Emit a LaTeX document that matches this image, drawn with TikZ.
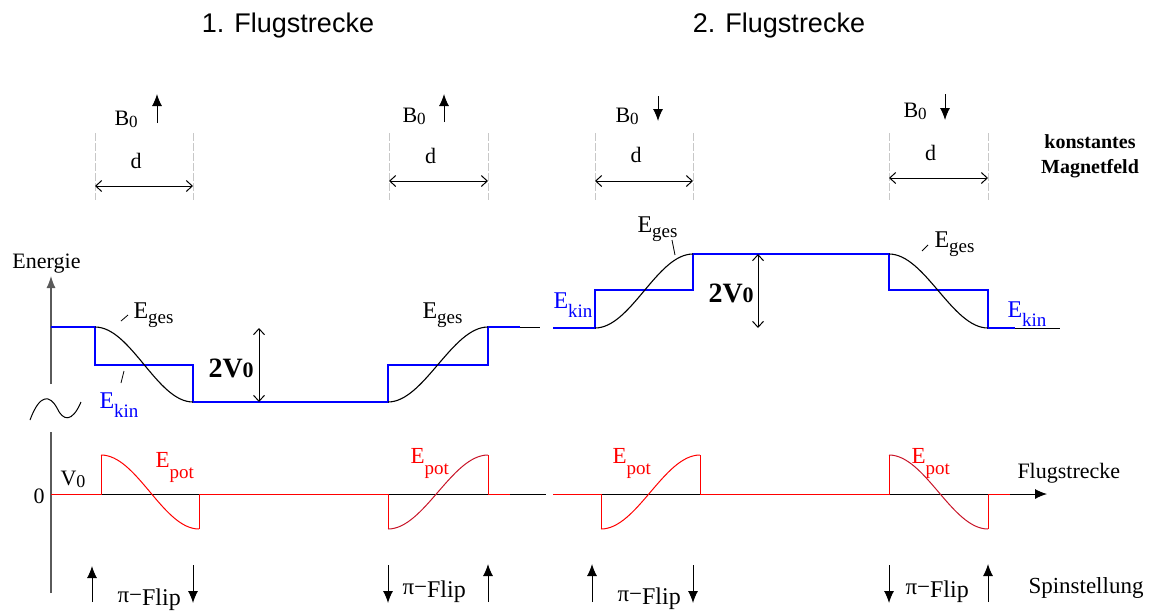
\documentclass[tikz,border=0pt]{standalone}
\usepackage{fontspec}
\setmainfont{Liberation Serif}
\newfontfamily\arialf{Liberation Sans}
\usetikzlibrary{arrows.meta}
\definecolor{eblue}{RGB}{0,0,255}
\definecolor{ered}{RGB}{255,0,0}
\definecolor{edred}{RGB}{200,20,40}
\definecolor{axgray}{RGB}{90,90,90}
\definecolor{dgray}{RGB}{200,200,200}
\newcommand\fs[1]{\fontsize{#1}{#1}\selectfont}
\newcommand\Esub[3]{\fs{#3}E\raisebox{-#2pt}{\fs{19}#1}}
\newcommand\Bnull{B\raisebox{-2pt}{\fs{17}0}}
\newcommand\piflip{\raisebox{3pt}{\fs{23}π−}\fs{24}Flip}
\begin{document}
\begin{tikzpicture}[x=1pt,y=-1pt,line width=1pt,
  txt/.style={inner sep=0pt,anchor=base west},
  spin/.style={line width=1pt,-{Latex[length=12pt,width=10pt]}},
  barb/.style={line width=1pt,{Straight Barb[length=6pt,width=11pt]}-{Straight Barb[length=6pt,width=11pt]}},
  guide/.style={dgray,line width=0.8pt,dash pattern=on 8pt off 2pt},
  bluel/.style={eblue,line width=1.3pt},
  curve/.style={black,line width=1.1pt}]
\useasboundingbox (0,0) rectangle (1151,614);
% titles
\node[inner sep=0pt,anchor=base,font=\arialf\fs{27}] (t1) at (288,32) {1. Flugstrecke};
\node[inner sep=0pt,anchor=base,font=\arialf\fs{27}] (t2) at (779,32) {2. Flugstrecke};
% magnetic field regions
\foreach \xa/\xb/\ya/\yd/\bx/\by/\nm in {95/193/186/168/114/125/a,389/488/181/163/402/122/b,595/693/181/162/615/122/c,889/988/178/160/903/117/d}{
  \coordinate (l\nm) at (\xa,133); \coordinate (r\nm) at (\xb,133);
  \coordinate (la\nm) at (\xa,200); \coordinate (ra\nm) at (\xb,200);
  \draw[guide] (l\nm) -- (la\nm);
  \draw[guide] (r\nm) -- (ra\nm);
  \coordinate (dl\nm) at (\xa,\ya); \coordinate (dr\nm) at (\xb,\ya);
  \draw[barb] (dl\nm) -- (dr\nm);
  \node[inner sep=0pt,anchor=base,font=\fs{22}] (dn\nm) at ({(\xa+\xb)/2-8},\yd) {d};
  \node[txt,font=\fs{22}] (bn\nm) at (\bx,\by) {\Bnull};
}
\coordinate (ba1) at (157,123); \coordinate (ba2) at (157,94);
\coordinate (bb1) at (444,122); \coordinate (bb2) at (444,94);
\coordinate (bc1) at (658,96); \coordinate (bc2) at (658,121);
\coordinate (bd1) at (945,94); \coordinate (bd2) at (945,120);
\draw[spin] (ba1) -- (ba2);
\draw[spin] (bb1) -- (bb2);
\draw[spin] (bc1) -- (bc2);
\draw[spin] (bd1) -- (bd2);
\node[inner sep=0pt,anchor=base,font=\bfseries\fs{20}] (k1) at (1090,148) {konstantes};
\node[inner sep=0pt,anchor=base,font=\bfseries\fs{20}] (k2) at (1090,173) {Magnetfeld};
% energy axis
\coordinate (ea0) at (51,384); \coordinate (ea1) at (51,276);
\draw[axgray,line width=1.2pt,-{Latex[length=12pt,width=9pt]}] (ea0) -- (ea1);
\node[txt,font=\fs{22}] (energie) at (12,268) {Energie};
\draw[black,line width=1pt] (30,420) .. controls (40,393) and (50,395) .. (57,408) .. controls (63,421) and (72,423) .. (81,402);
% energy lines, first flight
\draw[black] (488,327) -- (540,327);
\draw[bluel] (51,327) -- (95,327) -- (95,365) -- (193,365) -- (193,402) -- (388,402) -- (388,365) -- (488,365) -- (488,327) -- (520,327);
\draw[curve] (95,327) .. controls (131,327) and (157,402) .. (193,402);
\draw[curve] (388,402) .. controls (424,402) and (452,327) .. (488,327);
% second flight
\draw[black] (988,328) -- (1060,328);
\draw[bluel] (553,328) -- (595,328) -- (595,290) -- (693,290) -- (693,254) -- (889,254) -- (889,290) -- (988,290) -- (988,328) -- (1015,328);
\draw[curve] (595,328) .. controls (631,328) and (657,254) .. (693,254);
\draw[curve] (889,254) .. controls (925,254) and (952,328) .. (988,328);
% labels energy
\node[txt] (eg1) at (133,318) {\Esub{ges}{5}{24}};
\draw[line width=0.8pt] (121,321) -- (128,315);
\node[txt,text=eblue] (ek1) at (99,408) {\Esub{kin}{9}{24}};
\draw[line width=0.8pt] (124,371) -- (121,383);
\node[txt] (eg2) at (422,318) {\Esub{ges}{5}{24}};
\node[txt] (eg3) at (637,232) {\Esub{ges}{5}{24}};
\draw[line width=0.8pt] (672,240) -- (675,255);
\node[txt,text=eblue] (ek3) at (553,308) {\Esub{kin}{9}{24}};
\node[txt] (eg4) at (934,247) {\Esub{ges}{5}{24}};
\draw[line width=0.8pt] (922,251) -- (928,245);
\node[txt,text=eblue] (ek4) at (1007,317) {\Esub{kin}{9}{24}};
% 2V0
\coordinate (va1) at (259,328); \coordinate (va2) at (259,402);
\draw[barb] (va1) -- (va2);
\node[txt,font=\bfseries\fs{28}] (v1) at (208,377) {2V\fs{22}0};
\coordinate (vb1) at (758,254); \coordinate (vb2) at (758,328);
\draw[barb] (vb1) -- (vb2);
\node[txt,font=\bfseries\fs{28}] (v2) at (708,302) {2V\fs{22}0};
% potential axis
\coordinate (pa0) at (51,593); \coordinate (pa1) at (51,432);
\draw[axgray,line width=1.2pt] (pa0) -- (pa1);
\coordinate (h0) at (51,494); \coordinate (h1) at (546,494);
\coordinate (h2) at (553,494); \coordinate (h3) at (1047,494);
\draw[black,line width=1pt] (h0) -- (h1);
\draw[black,line width=1pt,-{Latex[length=12pt,width=10pt]}] (h2) -- (h3);
\node[txt,font=\fs{22}] (zero) at (33,503) {0};
\node[txt,font=\fs{22}] (vnull) at (60,485) {V\raisebox{-2pt}{\fs{18}0}};
\node[txt,font=\fs{22}] (flug) at (1017,478) {Flugstrecke};
% red flat
\draw[ered] (51,494) -- (101,494) -- (101,455);
\draw[ered] (199,529) -- (199,494) -- (388,494) -- (388,529);
\draw[ered] (488,455) -- (488,494) -- (510,494);
\draw[ered] (553,494) -- (601,494) -- (601,529);
\draw[ered] (700,455) -- (700,494) -- (889,494) -- (889,455);
\draw[ered] (988,529) -- (988,494) -- (1010,494);
\draw[ered,line width=1pt] (101,455) .. controls (137,455) and (163,529) .. (199,529);
\draw[edred,line width=1pt] (388,529) .. controls (424,529) and (452,455) .. (488,455);
\draw[ered,line width=1pt] (601,529) .. controls (637,529) and (664,455) .. (700,455);
\draw[edred,line width=1pt] (889,455) .. controls (925,455) and (952,529) .. (988,529);
\node[txt,text=ered] (ep1) at (155,467) {\Esub{pot}{11}{23}};
\node[txt,text=ered] (ep2) at (410,463) {\Esub{pot}{11}{23}};
\node[txt,text=ered] (ep3) at (612,463) {\Esub{pot}{11}{23}};
\node[txt,text=ered] (ep4) at (911,463) {\Esub{pot}{11}{23}};
% spins
\coordinate (s1a) at (92,602); \coordinate (s1b) at (92,566);
\coordinate (s2a) at (193,565); \coordinate (s2b) at (193,603);
\coordinate (s3a) at (388,565); \coordinate (s3b) at (388,603);
\coordinate (s4a) at (488,602); \coordinate (s4b) at (488,564);
\coordinate (s5a) at (592,602); \coordinate (s5b) at (592,564);
\coordinate (s6a) at (693,565); \coordinate (s6b) at (693,603);
\coordinate (s7a) at (889,565); \coordinate (s7b) at (889,603);
\coordinate (s8a) at (988,602); \coordinate (s8b) at (988,564);
\foreach \i in {1,...,8}{\draw[spin] (s\i a) -- (s\i b);}
\node[txt] (f1) at (117,605) {\piflip};
\node[txt] (f2) at (402,597) {\piflip};
\node[txt] (f3) at (617,604) {\piflip};
\node[txt] (f4) at (905,597) {\piflip};
\node[txt,font=\fs{23}] (spinst) at (1028,593) {Spinstellung};
\end{tikzpicture}
\end{document}
